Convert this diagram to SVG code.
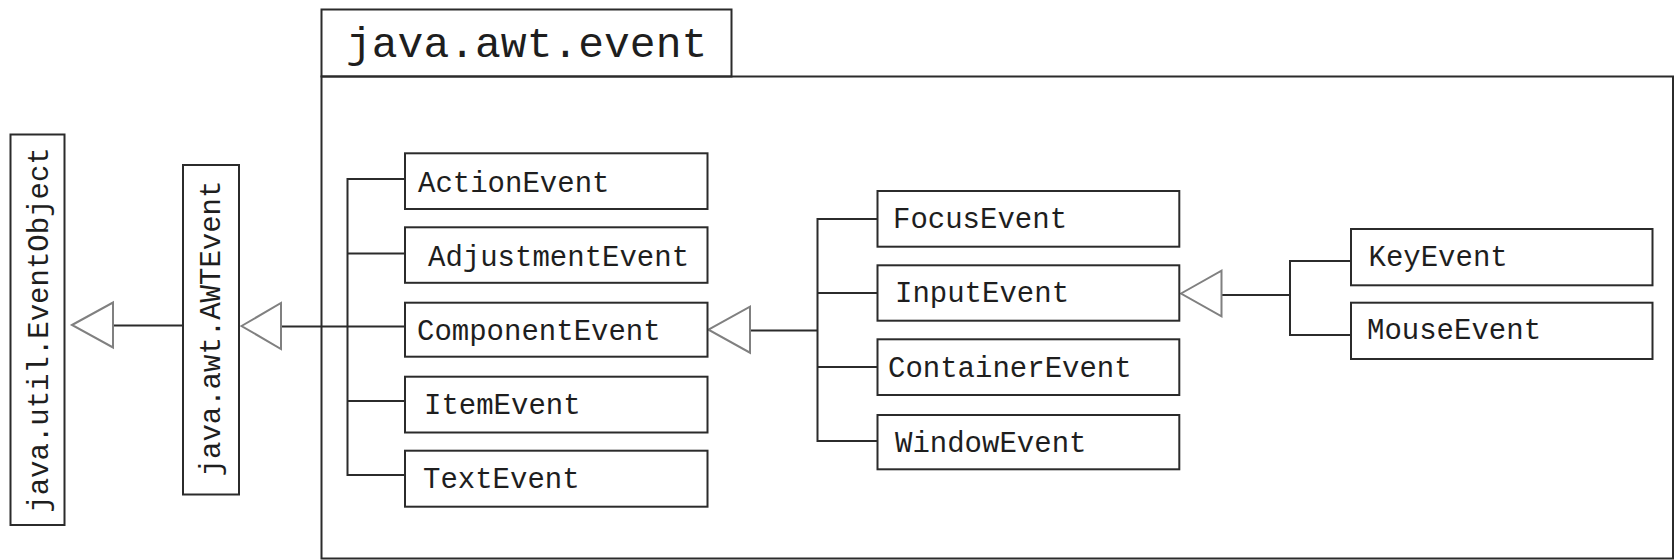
<svg xmlns="http://www.w3.org/2000/svg" width="1677" height="560" viewBox="0 0 1677 560">
<style>
.box{fill:#fff;stroke:#2b2b2b;stroke-width:2}
.pkg{fill:none;stroke:#2b2b2b;stroke-width:2}
.lbl{font-family:"Liberation Mono","Courier New",monospace;font-size:29px;fill:#1e1e1e}
.title{font-family:"Liberation Mono","Courier New",monospace;font-size:43px;fill:#1e1e1e}
.conn{fill:none;stroke:#2b2b2b;stroke-width:2}
.tri{fill:#fff;stroke:#808080;stroke-width:2}
</style>
<rect width="1677" height="560" fill="#fff"/>
<g id="package">
<rect class="pkg" x="321.5" y="9.5" width="410" height="67"/>
<rect class="pkg" x="321.5" y="76.5" width="1351.5" height="482"/>
<text class="title" x="346" y="57">java.awt.event</text>
</g>
<g id="connectors">
<line class="conn" x1="113" y1="325.5" x2="183" y2="325.5"/>
<polygon class="tri" points="72,325 113,302.5 113,347.5"/>
<line class="conn" x1="281" y1="326.5" x2="405" y2="326.5"/>
<polyline class="conn" points="405,179 347.5,179 347.5,475 405,475"/>
<line class="conn" x1="347.5" y1="253.5" x2="405" y2="253.5"/>
<line class="conn" x1="347.5" y1="401" x2="405" y2="401"/>
<polygon class="tri" points="241.5,326 281,303 281,349"/>
<line class="conn" x1="750" y1="330.5" x2="817.5" y2="330.5"/>
<polyline class="conn" points="877.5,219 817.5,219 817.5,441 877.5,441"/>
<line class="conn" x1="817.5" y1="293" x2="877.5" y2="293"/>
<line class="conn" x1="817.5" y1="367" x2="877.5" y2="367"/>
<polygon class="tri" points="708.5,329.7 750,306.7 750,352.7"/>
<line class="conn" x1="1221.5" y1="295" x2="1290" y2="295"/>
<polyline class="conn" points="1351,261 1290,261 1290,335 1351,335"/>
<polygon class="tri" points="1181,293.5 1221.5,270.7 1221.5,316.3"/>
</g>
<g id="EventObject">
<rect class="box" x="10.5" y="134.5" width="54" height="390.5"/>
<text class="lbl" transform="translate(48,330) rotate(-90)" text-anchor="middle">java.util.EventObject</text>
</g>
<g id="AWTEvent">
<rect class="box" x="183" y="165" width="56" height="329.5"/>
<text class="lbl" transform="translate(219.5,328.5) rotate(-90)" text-anchor="middle">java.awt.AWTEvent</text>
</g>
<g id="ActionEvent">
<rect class="box" x="405" y="153.3" width="302.5" height="55.7"/>
<text class="lbl" x="418" y="191.5">ActionEvent</text>
</g>
<g id="AdjustmentEvent">
<rect class="box" x="405" y="227.3" width="302.5" height="55.5"/>
<text class="lbl" x="428" y="266">AdjustmentEvent</text>
</g>
<g id="ComponentEvent">
<rect class="box" x="405" y="302.7" width="302.5" height="54"/>
<text class="lbl" x="417" y="339.5">ComponentEvent</text>
</g>
<g id="ItemEvent">
<rect class="box" x="405" y="376.7" width="302.5" height="55.8"/>
<text class="lbl" x="424" y="413.5">ItemEvent</text>
</g>
<g id="TextEvent">
<rect class="box" x="405" y="450.7" width="302.5" height="56"/>
<text class="lbl" x="423" y="487.7">TextEvent</text>
</g>
<g id="FocusEvent">
<rect class="box" x="877.5" y="191" width="301.8" height="55.7"/>
<text class="lbl" x="893" y="228.3">FocusEvent</text>
</g>
<g id="InputEvent">
<rect class="box" x="877.5" y="265.3" width="301.8" height="55.4"/>
<text class="lbl" x="895" y="301.7">InputEvent</text>
</g>
<g id="ContainerEvent">
<rect class="box" x="877.5" y="339.3" width="301.8" height="55.7"/>
<text class="lbl" x="888" y="377.3">ContainerEvent</text>
</g>
<g id="WindowEvent">
<rect class="box" x="877.5" y="415" width="301.8" height="54.3"/>
<text class="lbl" x="895" y="451.7">WindowEvent</text>
</g>
<g id="KeyEvent">
<rect class="box" x="1351" y="229" width="301.5" height="56.3"/>
<text class="lbl" x="1368.5" y="265.7">KeyEvent</text>
</g>
<g id="MouseEvent">
<rect class="box" x="1351" y="302.7" width="301.5" height="56.3"/>
<text class="lbl" x="1367" y="339.3">MouseEvent</text>
</g>
</svg>
